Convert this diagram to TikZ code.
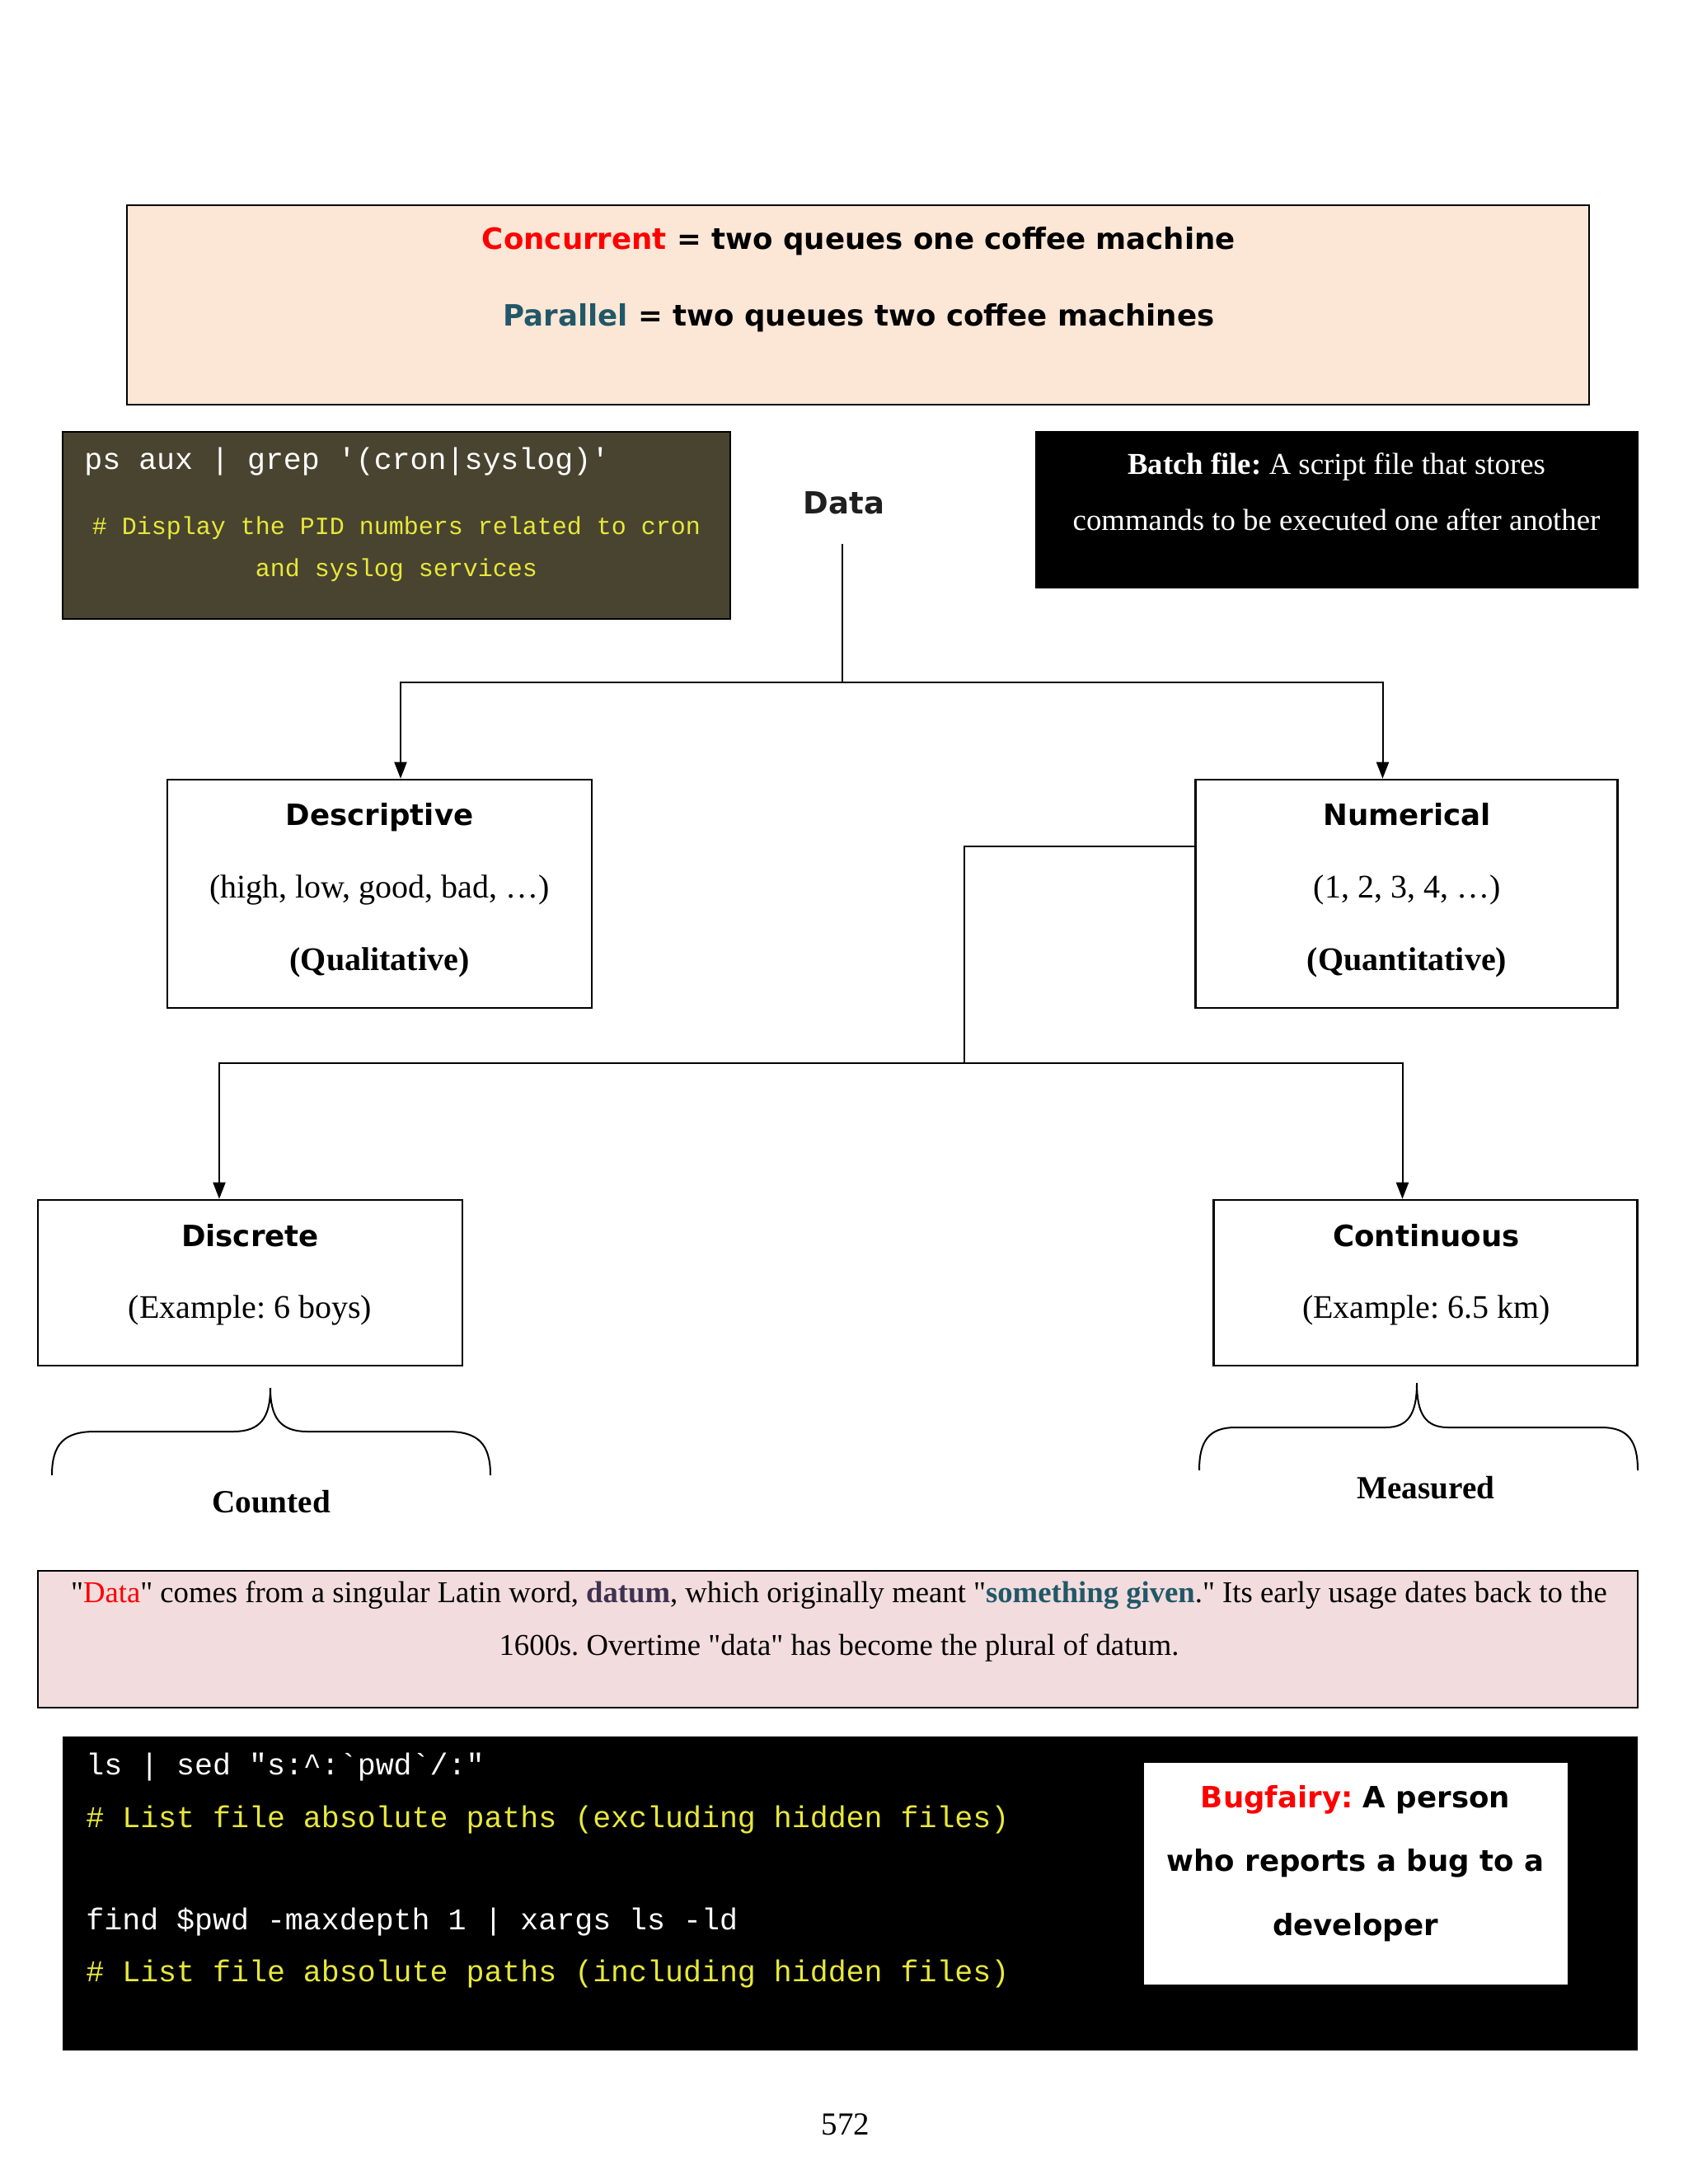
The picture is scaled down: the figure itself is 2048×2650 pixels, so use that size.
\documentclass[tikz,border=0pt]{standalone}
\usepackage{fontspec}
\setmainfont{Liberation Serif}[Ligatures=TeXOff]
\setmonofont{Liberation Mono}
\newfontfamily\hv{DejaVu Sans}
\usetikzlibrary{arrows.meta}
\frenchspacing
\definecolor{peach}{HTML}{FCE6D6}
\definecolor{olivebg}{HTML}{494430}
\definecolor{codeyellow}{HTML}{E8E83A}
\definecolor{tealc}{HTML}{215868}
\definecolor{purplec}{HTML}{3F3151}
\definecolor{pinkbg}{HTML}{F2DCDD}
\definecolor{redc}{HTML}{FF0000}
\begin{document}
\frenchspacing
\begin{tikzpicture}[x=0.5pt,y=-0.5pt,
  box/.style={draw=black,line width=1.3pt,inner sep=0pt},
  heavy/.style={font=\hv\bfseries\fontsize{17.8}{21}\selectfont,text height=13pt,text depth=3.5pt},
  serifT/.style={font=\fontsize{20}{24}\selectfont},
  serifB/.style={font=\bfseries\fontsize{20}{24}\selectfont},
  codeL/.style={font=\ttfamily\fontsize{18.3}{22}\selectfont,anchor=west,inner sep=0pt},
  codeS/.style={font=\ttfamily\fontsize{15}{18}\selectfont,text=codeyellow,inner sep=0pt},
  conn/.style={line width=1pt},
  arr/.style={conn,-{Triangle[length=10pt,width=7.5pt]}}]
\useasboundingbox[fill=white] (0,0) rectangle (2048,2650);

% top box
\node[box,fill=peach,minimum width=887pt,minimum height=121pt] (top) at (1041,370) {};
\node[heavy] (conc) at (1042,293) {\textcolor{redc}{Concurrent} = two queues one coffee machine};
\node[heavy] (para) at (1042,386) {\textcolor{tealc}{Parallel} = two queues two coffee machines};

% olive code box
\node[draw=black,line width=1pt,fill=olivebg,minimum width=405pt,minimum height=113.5pt,inner sep=0pt] (olive) at (481,637.5) {};
\node[codeL,text=white] (ps) at (102,560) {ps aux | grep '(cron|syslog)'};
\node[codeS] (c1) at (481,641) {\# Display the PID numbers related to cron};
\node[codeS] (c2) at (481,692) {and syslog services};

% batch box
\node[draw=black,fill=black,minimum width=365.5pt,minimum height=95pt,inner sep=0pt] (batch) at (1621.5,618) {};
\node[text=white,font=\fontsize{18.4}{22}\selectfont] (b1) at (1621.5,566) {\textbf{Batch file:} A script file that stores};
\node[text=white,font=\fontsize{18.4}{22}\selectfont] (b2) at (1621.5,631) {commands to be executed one after another};

% Data
\node[heavy,font=\hv\bfseries\fontsize{18.5}{22}\selectfont,text=black!88] (data) at (1024,614) {Data};
\coordinate (dtop) at (1022,660);
\coordinate (j1) at (1022,828);

% descriptive / numerical
\node[box,minimum width=257.5pt,minimum height=138.5pt] (desc) at (460.5,1084.5) {};
\node[heavy] (desct) at (460.5,992) {Descriptive};
\node[serifT] (descx) at (460.5,1080) {(high, low, good, bad, …)};
\node[serifB] (descq) at (460.5,1168) {(Qualitative)};

\node[box,minimum width=256pt,minimum height=138.5pt] (num) at (1706.5,1084.5) {};
\node[heavy] (numt) at (1707,992) {Numerical};
\node[serifT] (numx) at (1707,1080) {(1, 2, 3, 4, …)};
\node[serifB] (numq) at (1707,1168) {(Quantitative)};

\draw[conn] (dtop) -- (j1);
\draw[arr] (j1) -| ([xshift=12.75pt]desc.north);
\draw[arr] (j1) -| ([xshift=-14.5pt]num.north);

% discrete / continuous
\node[box,minimum width=257.5pt,minimum height=100.5pt] (disc) at (303.5,1556.5) {};
\node[heavy] (disct) at (303.5,1502.5) {Discrete};
\node[serifT] (discx) at (303.5,1590) {(Example: 6 boys)};

\node[box,minimum width=257pt,minimum height=100.5pt] (cont) at (1729.5,1556.5) {};
\node[heavy] (contt) at (1730.5,1502.5) {Continuous};
\node[serifT] (contx) at (1730.5,1590) {(Example: 6.5 km)};

\coordinate (j2) at (1170,1290);
\draw[conn] ([yshift=28.75pt]num.west) -| (j2);
\draw[arr] (j2) -| ([xshift=-18.75pt]disc.north);
\draw[arr] (j2) -| ([xshift=-14pt]cont.north);

% braces
\draw[conn] (63,1790) .. controls (63,1752) and (78,1737) .. (115,1737) -- (283,1737)
  .. controls (316,1737) and (328,1720) .. (328,1684)
  .. controls (328,1720) and (340,1737) .. (373,1737) -- (543,1737)
  .. controls (580,1737) and (595,1752) .. (595,1790);
\draw[conn] (1455,1784) .. controls (1455,1748) and (1467,1732) .. (1499,1732) -- (1681,1732)
  .. controls (1709,1732) and (1719,1715) .. (1719,1678)
  .. controls (1719,1715) and (1729,1732) .. (1757,1732) -- (1943,1732)
  .. controls (1975,1732) and (1987,1748) .. (1987,1784);
\node[serifB,font=\bfseries\fontsize{19.6}{23}\selectfont] (counted) at (329,1822) {Counted};
\node[serifB,font=\bfseries\fontsize{19.6}{23}\selectfont] (measured) at (1730,1805) {Measured};

% data paragraph
\node[box,fill=pinkbg,minimum width=970.5pt,minimum height=83pt] (dpara) at (1016.5,1989) {};
\node[align=center,font=\fontsize{18.35}{32}\selectfont] (dtext) at (1018,1967)
 {"\textcolor{redc}{Data}" comes from a singular Latin word, \textbf{\textcolor{purplec}{datum}}, which originally meant "\textbf{\textcolor{tealc}{something given}}." Its early usage dates back to the\\
 1600s. Overtime "data" has become the plural of datum.};

% bottom code box
\node[draw=black,fill=black,minimum width=955pt,minimum height=190pt,inner sep=0pt] (bot) at (1031,2297) {};
\node[codeL,text=white] (l1) at (104,2144) {ls | sed "s:\textasciicircum:`pwd`/:"};
\node[codeL,text=codeyellow] (l2) at (104,2208) {\# List file absolute paths (excluding hidden files)};
\node[codeL,text=white] (l3) at (104,2332) {find \$pwd -maxdepth 1 | xargs ls -ld};
\node[codeL,text=codeyellow] (l4) at (104,2395) {\# List file absolute paths (including hidden files)};

\node[fill=white,minimum width=257pt,minimum height=134.5pt,inner sep=0pt] (bug) at (1644.5,2273.5) {};
\node[heavy] (bg1) at (1644.5,2184) {\textcolor{redc}{Bugfairy:} A person};
\node[heavy] (bg2) at (1644.5,2261) {who reports a bug to a};
\node[heavy] (bg3) at (1644.5,2339) {developer};

% page number
\node[font=\fontsize{19.5}{23}\selectfont] (page) at (1026,2578) {572};
\end{tikzpicture}
\end{document}
